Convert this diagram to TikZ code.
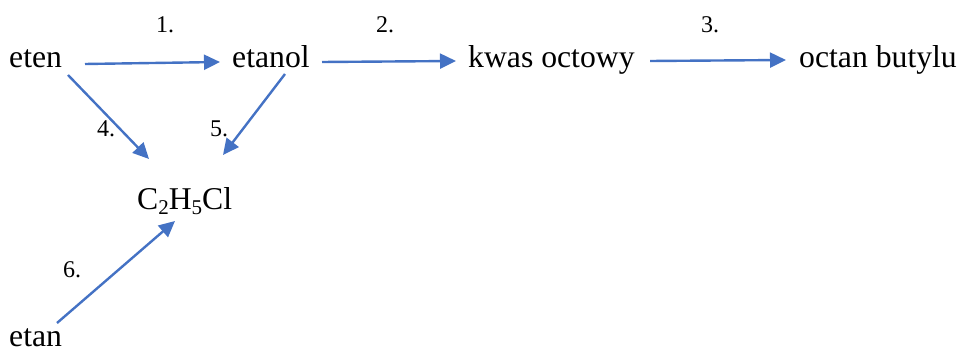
\documentclass[tikz,border=0pt]{standalone}
\usepackage{fontspec}
\setmainfont{Liberation Serif}
\usetikzlibrary{arrows.meta}
\definecolor{arrowblue}{HTML}{4472C4}
\newcommand{\lowsub}[1]{\raisebox{-0.15em}{\fontsize{21}{21}\selectfont #1}}
\tikzset{
  chem/.style={inner sep=0pt, anchor=base west, font=\fontsize{31.7}{36}\selectfont},
  num/.style={inner sep=0pt, anchor=base west, font=\fontsize{24}{28}\selectfont},
  rxn/.style={draw=arrowblue, line width=2.4pt, -{Triangle[length=16pt,width=15pt]}}
}
\begin{document}
\begin{tikzpicture}[x=1pt,y=-1pt]
\useasboundingbox (0,0) rectangle (960,352);
\node[chem] (eten) at (9,68) {eten};
\node[chem] (etanol) at (232,68) {etanol};
\node[chem] (kwas) at (468,68) {kwas octowy};
\node[chem] (octan) at (799,68) {octan butylu};
\node[chem] (chl) at (137,210) {C\lowsub{2}H\lowsub{5}Cl};
\node[chem] (etan) at (9,346) {etan};
\node[num] (n1) at (156,33) {1.};
\node[num] (n2) at (376,33) {2.};
\node[num] (n3) at (701,33) {3.};
\node[num] (n4) at (97,137) {4.};
\node[num] (n5) at (210,137) {5.};
\node[num] (n6) at (63,278) {6.};
\coordinate (a1s) at (85,64);  \coordinate (a1e) at (220,62);
\coordinate (a2s) at (322,62); \coordinate (a2e) at (456,61);
\coordinate (a3s) at (650,61); \coordinate (a3e) at (786,60);
\coordinate (a4s) at (68,75);  \coordinate (a4e) at (149,159);
\coordinate (a5s) at (285,74); \coordinate (a5e) at (223,155);
\coordinate (a6s) at (57,323); \coordinate (a6e) at (175,221);
\draw[rxn] (a1s) -- (a1e);
\draw[rxn] (a2s) -- (a2e);
\draw[rxn] (a3s) -- (a3e);
\draw[rxn] (a4s) -- (a4e);
\draw[rxn] (a5s) -- (a5e);
\draw[rxn] (a6s) -- (a6e);
\end{tikzpicture}
\end{document}
